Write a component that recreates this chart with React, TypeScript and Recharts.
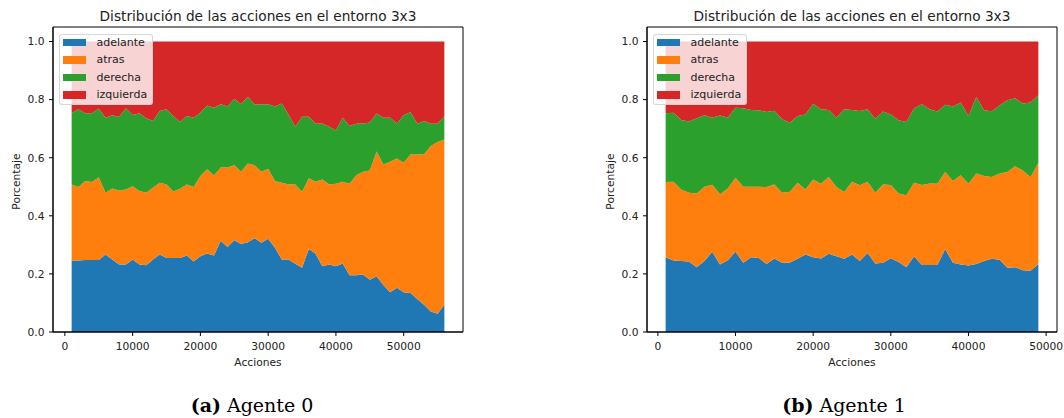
import React from 'react';
import { AreaChart, Area, XAxis, YAxis, Legend, ReferenceArea } from 'recharts';

// pasos de entrenamiento (eje x)
const pasos = [
  1000, 2000, 3000, 4000, 5000, 6000, 7000, 8000, 9000, 10000,
  11000, 12000, 13000, 14000, 15000, 16000, 17000, 18000, 19000, 20000,
  21000, 22000, 23000, 24000, 25000, 26000, 27000, 28000, 29000, 30000,
  31000, 32000, 33000, 34000, 35000, 36000, 37000, 38000, 39000, 40000,
  41000, 42000, 43000, 44000, 45000, 46000, 47000, 48000, 49000, 50000,
  51000, 52000, 53000, 54000, 55000, 56000,
];

const acciones = ['adelante', 'atras', 'derecha', 'izquierda'];
const colores = ['#1f77b4', '#ff7f0e', '#2ca02c', '#d62728'];

const ticksX = [0, 10000, 20000, 30000, 40000, 50000];
const ticksY = [0, 0.2, 0.4, 0.6, 0.8, 1.0];

// Agente 0
const adelante0 = [
  0.246, 0.246, 0.248, 0.248, 0.248, 0.267, 0.250, 0.232, 0.232, 0.250,
  0.232, 0.230, 0.250, 0.267, 0.255, 0.255, 0.255, 0.263, 0.243, 0.261,
  0.270, 0.263, 0.314, 0.293, 0.316, 0.303, 0.309, 0.323, 0.307, 0.321,
  0.290, 0.250, 0.250, 0.235, 0.221, 0.286, 0.269, 0.226, 0.232, 0.226,
  0.236, 0.195, 0.195, 0.198, 0.180, 0.192, 0.162, 0.137, 0.152, 0.137,
  0.134, 0.114, 0.094, 0.071, 0.063, 0.094,
];
const atras0 = [
  0.262, 0.253, 0.272, 0.268, 0.285, 0.212, 0.244, 0.255, 0.259, 0.252,
  0.253, 0.249, 0.247, 0.247, 0.253, 0.229, 0.238, 0.245, 0.256, 0.276,
  0.290, 0.276, 0.252, 0.273, 0.258, 0.249, 0.271, 0.251, 0.245, 0.241,
  0.230, 0.264, 0.258, 0.273, 0.262, 0.243, 0.248, 0.299, 0.276, 0.284,
  0.281, 0.315, 0.345, 0.354, 0.376, 0.429, 0.415, 0.449, 0.445, 0.446,
  0.477, 0.497, 0.517, 0.569, 0.591, 0.569,
];
const derecha0 = [
  0.245, 0.268, 0.233, 0.237, 0.236, 0.259, 0.252, 0.253, 0.279, 0.245,
  0.268, 0.257, 0.229, 0.247, 0.259, 0.260, 0.230, 0.236, 0.239, 0.218,
  0.220, 0.233, 0.218, 0.210, 0.229, 0.232, 0.230, 0.209, 0.232, 0.222,
  0.256, 0.273, 0.241, 0.199, 0.258, 0.212, 0.200, 0.193, 0.199, 0.184,
  0.221, 0.199, 0.177, 0.166, 0.165, 0.131, 0.161, 0.152, 0.121, 0.163,
  0.146, 0.106, 0.115, 0.077, 0.063, 0.081,
];
const izquierda0 = [
  0.247, 0.233, 0.247, 0.247, 0.231, 0.262, 0.254, 0.260, 0.230, 0.253,
  0.247, 0.264, 0.274, 0.239, 0.233, 0.256, 0.277, 0.256, 0.262, 0.245,
  0.220, 0.228, 0.216, 0.224, 0.197, 0.216, 0.190, 0.217, 0.216, 0.216,
  0.224, 0.213, 0.251, 0.293, 0.259, 0.259, 0.283, 0.282, 0.293, 0.306,
  0.262, 0.291, 0.283, 0.282, 0.279, 0.248, 0.262, 0.262, 0.282, 0.254,
  0.243, 0.283, 0.274, 0.283, 0.283, 0.256,
];

// Agente 1
const adelante1 = [
  0.257, 0.246, 0.244, 0.243, 0.223, 0.244, 0.276, 0.232, 0.247, 0.276,
  0.238, 0.257, 0.255, 0.234, 0.253, 0.238, 0.239, 0.252, 0.267, 0.257,
  0.253, 0.269, 0.261, 0.252, 0.267, 0.244, 0.272, 0.236, 0.238, 0.254,
  0.241, 0.223, 0.261, 0.231, 0.231, 0.231, 0.286, 0.238, 0.232, 0.229,
  0.234, 0.244, 0.252, 0.249, 0.221, 0.223, 0.213, 0.211, 0.234,
];
const atras1 = [
  0.259, 0.271, 0.247, 0.236, 0.254, 0.256, 0.231, 0.242, 0.247, 0.255,
  0.262, 0.243, 0.245, 0.265, 0.255, 0.241, 0.244, 0.262, 0.224, 0.268,
  0.257, 0.265, 0.238, 0.230, 0.250, 0.261, 0.245, 0.243, 0.270, 0.252,
  0.236, 0.248, 0.253, 0.275, 0.280, 0.279, 0.265, 0.282, 0.308, 0.281,
  0.312, 0.293, 0.282, 0.297, 0.330, 0.348, 0.343, 0.322, 0.349,
];
const derecha1 = [
  0.237, 0.238, 0.239, 0.246, 0.259, 0.246, 0.231, 0.271, 0.244, 0.241,
  0.270, 0.264, 0.263, 0.258, 0.254, 0.253, 0.237, 0.230, 0.258, 0.261,
  0.257, 0.230, 0.239, 0.285, 0.247, 0.256, 0.250, 0.255, 0.251, 0.243,
  0.252, 0.252, 0.256, 0.278, 0.256, 0.249, 0.231, 0.256, 0.250, 0.234,
  0.263, 0.226, 0.226, 0.234, 0.247, 0.234, 0.231, 0.257, 0.232,
];
const izquierda1 = [
  0.247, 0.245, 0.270, 0.275, 0.264, 0.254, 0.262, 0.255, 0.262, 0.228,
  0.230, 0.236, 0.237, 0.243, 0.238, 0.268, 0.280, 0.256, 0.251, 0.214,
  0.233, 0.236, 0.262, 0.233, 0.236, 0.239, 0.233, 0.266, 0.241, 0.251,
  0.271, 0.277, 0.230, 0.216, 0.233, 0.241, 0.218, 0.224, 0.210, 0.256,
  0.191, 0.237, 0.240, 0.220, 0.202, 0.195, 0.213, 0.210, 0.185,
];

const armarFilas = (a: number[], b: number[], c: number[], d: number[]) =>
  a.map((v, i) => ({ pasos: pasos[i], adelante: v, atras: b[i], derecha: c[i], izquierda: d[i] }));

const datos0 = armarFilas(adelante0, atras0, derecha0, izquierda0);
const datos1 = armarFilas(adelante1, atras1, derecha1, izquierda1);

const FONT = '"DejaVu Sans", sans-serif';

const Leyenda = () => (
  <div
    style={{
      boxSizing: 'border-box',
      width: 94,
      height: 71,
      background: 'rgba(255,255,255,0.8)',
      border: '1px solid rgba(204,204,204,0.8)',
      borderRadius: 3,
      fontFamily: FONT,
    }}
  >
    <div style={{ marginTop: -1.5 }}>
      {acciones.map((a, i) => (
        <div key={a} style={{ display: 'flex', alignItems: 'center', height: 17.5 }}>
          <span style={{ display: 'inline-block', width: 23, height: 7.5, marginLeft: 3, background: colores[i] }} />
          <span style={{ marginLeft: 10.5, fontSize: 11, color: '#222', lineHeight: '17.5px' }}>{a}</span>
        </div>
      ))}
    </div>
  </div>
);

type PanelProps = {
  datos: any[];
  dominioX: [number, number];
  left: number;
  letra: string;
  titulo: string;
};

function Panel({ datos, dominioX, left, letra, titulo }: PanelProps) {
  return (
    <div style={{ position: 'absolute', left, top: 0, width: 470, height: 418 }}>
      <div
        style={{
          position: 'absolute',
          left: 53,
          width: 410,
          top: 8.8,
          textAlign: 'center',
          fontFamily: FONT,
          fontSize: 13.7,
          lineHeight: '14px',
          color: '#222',
          whiteSpace: 'nowrap',
        }}
      >
        Distribución de las acciones en el entorno 3x3
      </div>
      <AreaChart width={470} height={370} data={datos} margin={{ top: 27, right: 7, bottom: 0, left: 0 }}>
        <XAxis
          dataKey="pasos"
          type="number"
          domain={dominioX}
          ticks={ticksX}
          allowDataOverflow
          height={38}
          tickSize={4}
          tickMargin={6}
          stroke="#000"
          tick={{ fill: '#222', fontSize: 10.7, fontFamily: FONT }}
          label={{ value: 'Acciones', position: 'insideBottom', offset: 4.5, fill: '#222', fontSize: 10.7, fontFamily: FONT }}
        />
        <YAxis
          type="number"
          domain={[0, 1.05]}
          ticks={ticksY}
          allowDataOverflow
          width={53}
          tickSize={4}
          tickMargin={4.5}
          stroke="#000"
          tickFormatter={(v: number) => v.toFixed(1)}
          tick={{ fill: '#222', fontSize: 10.7, fontFamily: FONT }}
          label={{ value: 'Porcentaje', angle: -90, position: 'center', dx: -10.3, dy: 2, fill: '#222', fontSize: 10.7, fontFamily: FONT }}
        />
        {acciones.map((a, i) => (
          <Area
            key={a}
            type="linear"
            dataKey={a}
            stackId="1"
            stroke="none"
            fill={colores[i]}
            fillOpacity={1}
            isAnimationActive={false}
          />
        ))}
        <ReferenceArea
          x1={dominioX[0]}
          x2={dominioX[1]}
          y1={0}
          y2={1.05}
          fill="none"
          fillOpacity={0}
          stroke="#000"
          strokeWidth={1}
          ifOverflow="visible"
        />
        <Legend
          layout="vertical"
          align="center"
          verticalAlign="middle"
          content={() => <Leyenda />}
          wrapperStyle={{ left: 59, top: 34, width: 94, height: 71 }}
        />
      </AreaChart>
      <div
        style={{
          position: 'absolute',
          left: 0,
          width: letra === 'a' ? 504 : 500,
          top: 396,
          textAlign: 'center',
          fontFamily: '"DejaVu Serif", serif',
          fontSize: 19,
          lineHeight: '19px',
          color: '#000',
          whiteSpace: 'nowrap',
        }}
      >
        <b>({letra})</b> {titulo}
      </div>
    </div>
  );
}

export default function App() {
  return (
    <div style={{ position: 'absolute', left: 0, top: 0, width: 1064, height: 418, background: '#fff', overflow: 'hidden' }}>
      <Panel datos={datos0} dominioX={[-1750, 58750]} left={0} letra="a" titulo="Agente 0" />
      <Panel datos={datos1} dominioX={[-1400, 51400]} left={594} letra="b" titulo="Agente 1" />
    </div>
  );
}
